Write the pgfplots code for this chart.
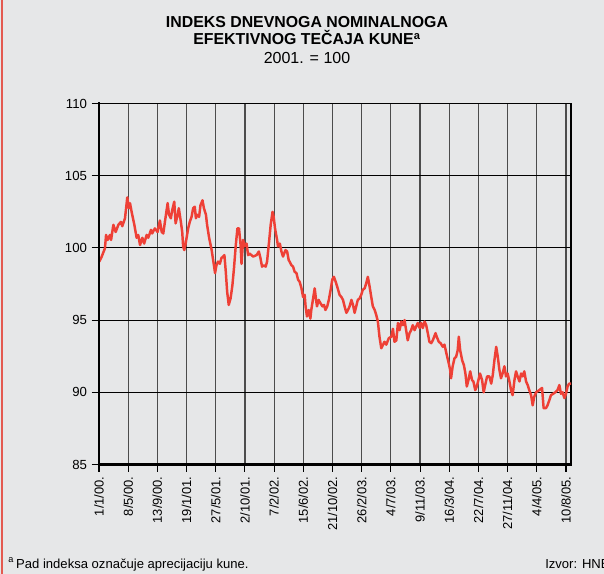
\documentclass[border=0pt]{standalone}
\usepackage{pgfplots}
\pgfplotsset{compat=1.18}
\usepackage{fontspec}
\setmainfont{Liberation Sans}
\definecolor{bg}{RGB}{230,231,232}
\definecolor{lred}{RGB}{238,64,54}
\definecolor{edge}{RGB}{228,90,80}
\begin{document}
\begin{tikzpicture}[x=0.75pt,y=0.75pt]
\useasboundingbox (0,0) rectangle (604,574);
\clip (0,0) rectangle (604,574);
\fill[bg] (0,0) rectangle (604,574);
\draw[edge, line width=0.8pt] (2,0) -- (2,574);
\node[anchor=base, font=\fontsize{11.9}{14}\selectfont\bfseries] at (307,546) {INDEKS DNEVNOGA NOMINALNOGA};
\node[anchor=base, font=\fontsize{11.9}{14}\selectfont\bfseries] at (307,529) {EFEKTIVNOG TEČAJA KUNE\textsuperscript{a}};
\node[anchor=base, font=\fontsize{12}{14}\selectfont] at (307,510) {2001. = 100};
\node[anchor=base west, font=\fontsize{9.8}{12}\selectfont, inner sep=0pt] at (8,5.5) {\raisebox{1pt}{\textsuperscript{a}}\,Pad indeksa označuje aprecijaciju kune.};
\node[anchor=base west, font=\fontsize{9.8}{12}\selectfont, inner sep=0pt] at (545,5.5) {Izvor: HNB};
\begin{axis}[name=ax, at={(74.25pt,82.125pt)}, anchor=south west, scale only axis,
  width=354pt, height=270.75pt,
  xmin=0, xmax=2070, ymin=85, ymax=110,
  ytick={85,90,95,100,105,110},
  xtick={0,128,256,384,512,640,768,896,1024,1152,1280,1408,1536,1664,1792,1920,2048},
  xticklabels={1/1/00.,8/5/00.,13/9/00.,19/1/01.,27/5/01.,2/10/01.,7/2/02.,15/6/02.,21/10/02.,26/2/03.,4/7/03.,9/11/03.,16/3/04.,22/7/04.,27/11/04.,4/4/05.,10/8/05.},
  xticklabel style={rotate=90, anchor=east, font=\fontsize{9.7}{10}\selectfont},
  yticklabel style={font=\fontsize{9.9}{10}\selectfont},
  /pgf/number format/assume math mode=true,
  tick align=outside, xtick pos=bottom, ytick pos=left,
  major tick length=5.5pt,
  tick style={black, line width=0.8pt},
  grid=major,
  x grid style={black!70, line width=0.85pt},
  y grid style={black, line width=0.8pt},
  axis line style={black, line width=0.8pt},
]
\addplot[lred, line width=1.85pt, line join=round] table {
x y
1 99.04
12 99.4
26 99.97
31 100.9
38 100.55
48 100.9
53 100.55
63 101.6
73 101.1
85 101.6
96 101.8
102 101.5
114 102.05
124 103.5
131 102.75
136 103.1
143 102.5
155 101.6
165 100.7
172 100.9
180 100.2
190 100.7
198 100.3
209 100.9
216 100.7
228 101.25
233 101.0
245 101.35
257 101.1
267 101.9
275 101.1
282 101.0
289 101.8
301 103.1
307 102.3
315 102.05
321 102.6
330 103.2
336 101.7
345 102.3
350 102.75
359 101.8
365 101.1
369 100.1
374 99.85
380 100.3
391 101.35
398 101.8
406 102.15
413 102.75
420 102.85
425 102.05
430 102.3
439 102.15
445 102.95
454 103.3
460 102.75
469 102.3
474 101.6
483 100.7
494 99.85
504 98.8
509 98.25
515 98.8
522 99.05
530 98.9
537 99.3
544 99.4
550 99.5
556 98.35
562 96.97
569 96.05
577 96.5
585 97.4
592 98.6
600 100.2
607 101.35
614 101.35
621 100.2
625 98.9
632 100.55
639 100.1
647 100.3
654 99.5
661 99.6
676 99.4
691 99.5
701 99.75
708 99.3
715 98.7
723 98.8
731 98.7
737 99.05
746 100.45
753 101.6
761 102.5
766 102.15
772 101.35
781 100.55
785 100.1
793 100.3
800 99.75
807 99.4
818 99.85
825 99.75
832 99.15
836 99.05
844 98.8
851 98.7
858 98.35
866 98.25
873 97.8
880 97.65
888 97.2
895 96.6
902 96.75
906 95.95
912 95.25
920 95.7
927 95.1
931 95.7
938 96.4
946 97.2
952 96.4
956 95.95
963 96.4
972 96.15
980 95.95
987 96.05
993 95.7
1001 95.95
1008 96.4
1016 97.1
1023 97.8
1030 98.0
1038 97.65
1045 97.3
1055 96.75
1063 96.6
1070 96.4
1077 95.95
1085 95.5
1092 95.7
1099 95.95
1107 96.4
1114 96.05
1121 95.5
1128 95.95
1135 96.4
1143 96.5
1150 96.75
1157 97.1
1165 97.2
1172 97.55
1179 98.0
1187 97.3
1194 96.6
1201 95.95
1209 95.7
1216 95.35
1223 94.9
1230 93.85
1238 93.05
1252 93.5
1260 93.3
1271 93.75
1282 93.85
1289 94.4
1296 93.5
1304 93.6
1311 94.8
1318 94.3
1326 94.9
1333 94.65
1340 95.0
1347 94.3
1354 93.6
1362 94.1
1369 94.3
1376 94.65
1384 94.3
1391 94.55
1398 94.8
1406 94.45
1413 94.8
1420 94.45
1428 94.9
1435 94.65
1442 94.1
1449 93.5
1457 93.4
1464 93.6
1476 94.1
1481 93.85
1490 93.5
1498 93.4
1508 93.15
1515 93.3
1525 92.6
1534 92.0
1540 91.55
1544 90.97
1551 91.8
1559 92.35
1566 92.45
1573 92.9
1578 93.85
1584 92.9
1593 92.2
1600 91.9
1607 91.3
1613 90.4
1622 90.97
1628 91.45
1636 90.85
1642 90.75
1650 90.15
1657 90.4
1664 90.85
1671 91.3
1680 90.85
1687 90.0
1695 90.6
1702 91.1
1712 91.1
1720 90.6
1727 91.2
1734 92.2
1742 93.15
1749 92.45
1756 91.55
1763 90.97
1770 91.3
1778 91.8
1785 91.1
1792 91.3
1800 90.75
1807 90.15
1814 89.8
1822 90.85
1829 91.45
1836 91.1
1844 90.75
1851 91.3
1858 91.1
1865 91.45
1873 90.75
1880 90.5
1887 90.15
1895 89.8
1902 89.1
1909 89.7
1917 90.0
1931 90.15
1943 90.3
1950 88.9
1960 88.9
1967 89.1
1975 89.45
1982 89.8
1992 89.9
2001 90.0
2011 90.15
2019 90.5
2026 89.9
2033 90.0
2041 89.6
2048 89.9
2055 90.4
2062 90.6
2070 90.6
};
\end{axis}
\draw[black, line width=2pt, line cap=rect] (ax.north west) -- (ax.south west) -- (ax.south east);
\end{tikzpicture}
\end{document}
